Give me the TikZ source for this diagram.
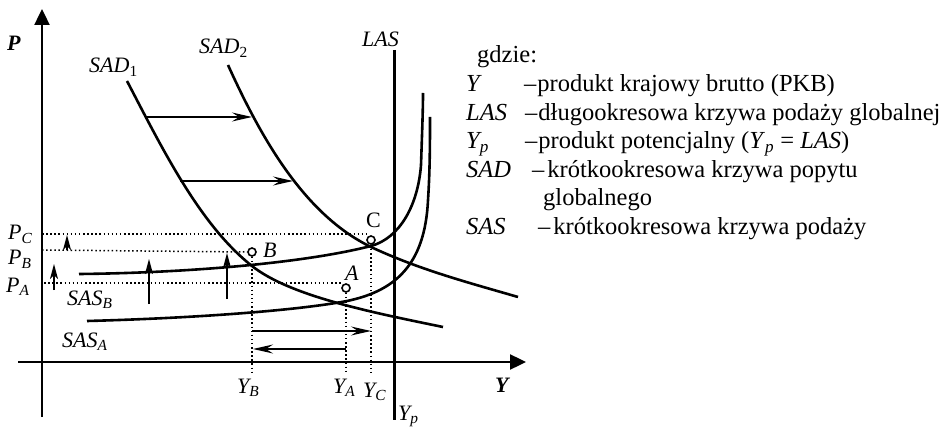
\documentclass[tikz,border=0pt]{standalone}
\usepackage{fontspec}
\setmainfont{Liberation Serif}
\usetikzlibrary{arrows.meta}
\begin{document}
\begin{tikzpicture}[x=1pt,y=-1pt,
  axis/.style={line width=2.4pt,-{Triangle[length=16pt,width=15pt]}},
  curve/.style={line width=2.6pt},
  shiftarrow/.style={line width=1.3pt,-{Stealth[length=20pt,width=9pt,inset=7pt]}},
  uparrow/.style={line width=1.3pt,-{Stealth[length=15pt,width=8pt,inset=4pt]}},
  guide/.style={line width=1.5pt,dash pattern=on 1.5pt off 2.6pt},
  ptc/.style={circle,draw,line width=1.6pt,minimum size=8pt,inner sep=0pt,fill=white},
  lbl/.style={font=\fontsize{22}{26}\selectfont\itshape,inner sep=0pt,anchor=base west},
  leglbl/.style={font=\fontsize{24.5}{28}\selectfont\itshape,inner sep=0pt,anchor=base west},
  leg/.style={font=\fontsize{24.5}{28}\selectfont,inner sep=0pt,anchor=base west},
  uplbl/.style={font=\fontsize{22}{26}\selectfont,inner sep=0pt,anchor=base west},
]
\useasboundingbox (0,0) rectangle (944,430);

% axes
\coordinate (ybot) at (42,417);
\coordinate (ytop) at (42,9);
\coordinate (xleft) at (18,362);
\coordinate (xright) at (526,362);
\draw[axis] (ybot) -- (ytop);
\draw[axis] (xleft) -- (xright);

% LAS
\coordinate (lastop) at (394,50);
\coordinate (lasbot) at (394,420);
\draw[line width=3pt] (lastop) -- (lasbot);

% SAD1
\draw[curve] (127,81) .. controls (163,150) and (200,225) .. (252,266)
  .. controls (290,296) and (370,312) .. (443,327);
% SAD2
\draw[curve] (228,65) .. controls (262,140) and (305,215) .. (371,247)
  .. controls (420,270) and (470,283) .. (518,297);
% SAS_B
\draw[curve] (79,274) .. controls (180,273) and (300,264) .. (371,246)
  .. controls (400,238) and (418,205) .. (421,165)
  .. controls (422,135) and (423,110) .. (423,93);
% SAS_A
\draw[curve] (87,321) .. controls (200,318) and (300,310) .. (347,301)
  .. controls (395,291) and (425,265) .. (428,200)
  .. controls (430,170) and (430,140) .. (430,117);

% points
\node[ptc] (B) at (252,252) {};
\node[ptc] (A) at (346,288) {};
\node[ptc] (C) at (371,240) {};

% guides
\coordinate (pc0) at (42,234); \coordinate (pc1) at (367,234);
\coordinate (pb0) at (42,250);
\coordinate (pa0) at (44,283); \coordinate (pa1) at (A.west |- 0,283);
\coordinate (yb1) at (252,373);
\coordinate (ya1) at (346,373);
\coordinate (yc1) at (371,373);
\draw[guide] (pc0) -- (pc1);
\draw[guide] (pb0) -- (B.west);
\draw[guide] (pa0) -- (pa1);
\draw[guide] (B.south) -- (yb1);
\draw[guide] (A.south) -- (ya1);
\draw[guide] (C.south) -- (yc1);

% SAD shift arrows
\coordinate (s1a) at (146,117); \coordinate (s1b) at (252,117);
\coordinate (s2a) at (180,181); \coordinate (s2b) at (293,181);
\draw[shiftarrow] (s1a) -- (s1b);
\draw[shiftarrow] (s2a) -- (s2b);

% Y arrows
\coordinate (r1a) at (252,331); \coordinate (r1b) at (371,331);
\coordinate (r2a) at (346,349); \coordinate (r2b) at (253,349);
\draw[shiftarrow] (r1a) -- (r1b);
\draw[shiftarrow] (r2a) -- (r2b);

% up arrows
\coordinate (u1a) at (54,290); \coordinate (u1b) at (54,264);
\coordinate (u2a) at (67,250); \coordinate (u2b) at (67,235);
\coordinate (u3a) at (149,304); \coordinate (u3b) at (149,259);
\coordinate (u4a) at (227,299); \coordinate (u4b) at (227,253);
\draw[uparrow] (u1a) -- (u1b);
\draw[uparrow] (u2a) -- (u2b);
\draw[uparrow] (u3a) -- (u3b);
\draw[uparrow] (u4a) -- (u4b);

% axis labels
\node[lbl,font=\fontsize{22}{26}\selectfont\bfseries\itshape] (Plab) at (7,51) {P};
\node[lbl,font=\fontsize{22}{26}\selectfont\bfseries\itshape] (Ylab) at (495,392) {Y};
\node[lbl] (sad1) at (89,73) {SAD\textsubscript{\upshape 1}};
\node[lbl] (sad2) at (199,54) {SAD\textsubscript{\upshape 2}};
\node[lbl] (las) at (362,47) {LAS};
\node[lbl] (pclab) at (8,240) {P\textsubscript{C}};
\node[lbl] (pblab) at (8,265) {P\textsubscript{B}};
\node[lbl] (palab) at (6,292) {P\textsubscript{A}};
\node[lbl] (sasb) at (67,305) {SAS\textsubscript{B}};
\node[lbl] (sasa) at (62,347) {SAS\textsubscript{A}};
\node[lbl] (blab) at (263,258) {B};
\node[lbl] (alab) at (345,280) {A};
\node[uplbl] (clab) at (366,228) {C};
\node[lbl] (yblab) at (237,393) {Y\textsubscript{B}};
\node[lbl] (yalab) at (333,393) {Y\textsubscript{A}};
\node[lbl] (yclab) at (363,397) {Y\textsubscript{C}};
\node[lbl] (yplab) at (398,420) {Y\textsubscript{p}};

% legend
\node[leg] (g0) at (477,63) {gdzie:};
\node[leglbl] (g1k) at (466,92) {Y};
\node[leg] (g1t) at (524,92) {–\kern1pt produkt krajowy brutto (PKB)};
\node[leglbl] (g2k) at (466,120.5) {LAS};
\node[leg] (g2t) at (525,120.5) {–\kern1pt długookresowa krzywa podaży globalnej};
\node[leglbl] (g3k) at (466,149) {Y\textsubscript{p}};
\node[leg] (g3t) at (525,149) {–\kern1pt produkt potencjalny (\textit{Y}\textsubscript{\textit{p}} = \textit{LAS})};
\node[leglbl] (g4k) at (466,177.5) {SAD};
\node[leg] (g4t) at (532,177.5) {–\kern3pt krótkookresowa krzywa popytu};
\node[leg] (g5t) at (543,206) {globalnego};
\node[leglbl] (g6k) at (466,234.5) {SAS};
\node[leg] (g6t) at (538,234.5) {–\kern3pt krótkookresowa krzywa podaży};
\end{tikzpicture}
\end{document}
